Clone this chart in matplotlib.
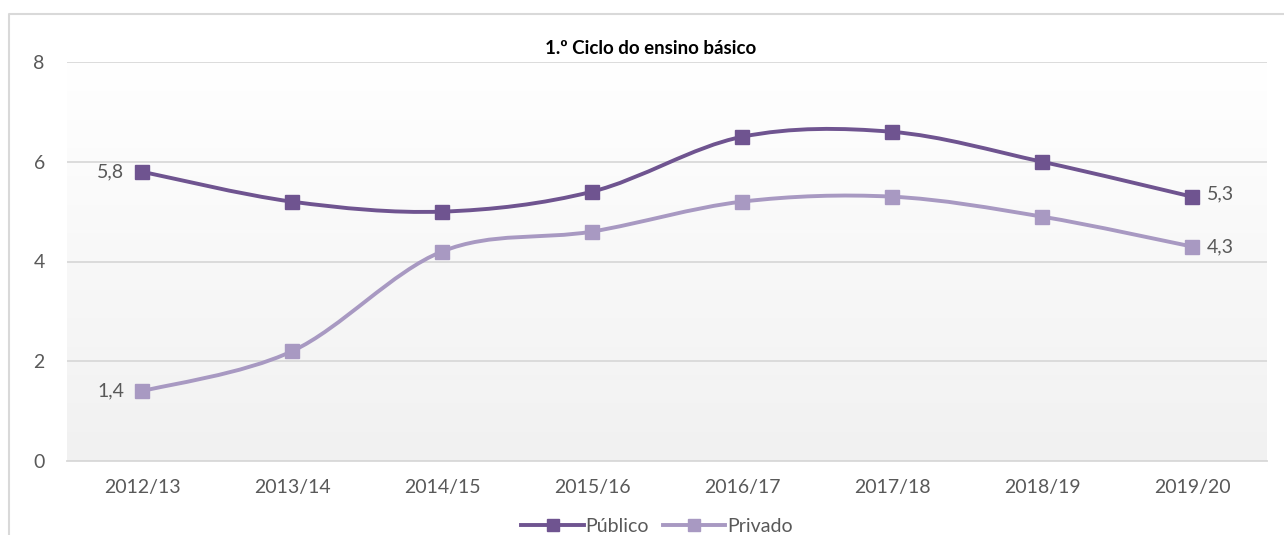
import numpy as np
import matplotlib.pyplot as plt
from matplotlib.path import Path
from matplotlib.patches import PathPatch
from matplotlib.lines import Line2D

anos = ["2012/13", "2013/14", "2014/15", "2015/16", "2016/17", "2017/18", "2018/19", "2019/20"]
publico = [5.8, 5.2, 5.0, 5.4, 6.5, 6.6, 6.0, 5.3]
privado = [1.4, 2.2, 4.2, 4.6, 5.2, 5.3, 4.9, 4.3]

cor_pub = "#6f5490"
cor_priv = "#a899c2"
cor_txt = "#595959"

plt.rcParams["font.family"] = ["Lato", "DejaVu Sans"]


def curva_suave(ax, xs, ys, cor):
    # smoothed line like excel (bezier, 1/6 of neighbour differences)
    pts = np.column_stack([xs, ys]).astype(float)
    n = len(pts)
    verts = [pts[0]]
    codes = [Path.MOVETO]
    for i in range(n - 1):
        p0 = pts[i - 1] if i > 0 else pts[i]
        p1 = pts[i]
        p2 = pts[i + 1]
        p3 = pts[i + 2] if i + 2 < n else pts[i + 1]
        c1 = p1 + (p2 - p0) / 6
        c2 = p2 - (p3 - p1) / 6
        verts += [c1, c2, p2]
        codes += [Path.CURVE4] * 3
    ax.add_patch(PathPatch(Path(verts, codes), fill=False, edgecolor=cor,
                           lw=2.8, capstyle="round", zorder=3))


fig = plt.figure(figsize=(12.84, 5.35), dpi=100)
ax = fig.add_axes([67 / 1284, 74 / 535, 1200 / 1284, 399 / 535])

# gradient background
grad = np.linspace(0, 1, 256).reshape(-1, 1)
ax.imshow(grad, extent=[-0.5, 7.5, 0, 8], aspect="auto", origin="upper",
          cmap=plt.matplotlib.colors.LinearSegmentedColormap.from_list("g", ["#ffffff", "#f1f1f1"]),
          zorder=0)

x = np.arange(len(anos))
curva_suave(ax, x, publico, cor_pub)
curva_suave(ax, x, privado, cor_priv)
ax.plot(x, publico, ls="none", marker="s", ms=10.5, color=cor_pub, zorder=4)
ax.plot(x, privado, ls="none", marker="s", ms=10.5, color=cor_priv, zorder=4)

ax.set_xlim(-0.5, 7.5)
ax.set_ylim(0, 8)
ax.set_yticks([0, 2, 4, 6, 8])
ax.set_xticks(x)
ax.set_xticklabels(anos)
ax.tick_params(length=0, labelsize=14, colors=cor_txt)
ax.tick_params(axis="x", pad=13)
ax.tick_params(axis="y", pad=16)
ax.grid(axis="y", color="#d9d9d9", lw=1.3)
ax.set_axisbelow(True)
for s in ["top", "right", "left"]:
    ax.spines[s].set_visible(False)
ax.spines["bottom"].set_color("#d9d9d9")
ax.spines["bottom"].set_linewidth(1.3)

def fmt(v):
    return f"{v:.1f}".replace(".", ",")

ax.annotate(fmt(publico[0]), (0, publico[0]), xytext=(-13, 0), textcoords="offset points",
            ha="right", va="center", fontsize=14, color=cor_txt)
ax.annotate(fmt(privado[0]), (0, privado[0]), xytext=(-13, 0), textcoords="offset points",
            ha="right", va="center", fontsize=14, color=cor_txt)
ax.annotate(fmt(publico[-1]), (7, publico[-1]), xytext=(11, 2), textcoords="offset points",
            ha="left", va="center", fontsize=14, color=cor_txt)
ax.annotate(fmt(privado[-1]), (7, privado[-1]), xytext=(11, 0), textcoords="offset points",
            ha="left", va="center", fontsize=14, color=cor_txt)

fig.text(651 / 1284, 1 - 48 / 535, "1.º Ciclo do ensino básico", ha="center", va="center",
         fontsize=13.5, fontweight="bold", color="black")

handles = [Line2D([], [], color=cor_pub, lw=2.8, marker="s", ms=9),
           Line2D([], [], color=cor_priv, lw=2.8, marker="s", ms=9)]
fig.legend(handles, ["Público", "Privado"], loc="center", bbox_to_anchor=(657 / 1284, 1 - 526 / 535),
           ncol=2, frameon=False, fontsize=14, labelcolor=cor_txt, handlelength=3.2,
           columnspacing=0.7, handletextpad=0.1)

# outer chart border (top and left visible)
fig.add_artist(Line2D([8.5 / 1284, 8.5 / 1284, 1], [0, 1 - 13.5 / 535, 1 - 13.5 / 535],
                      transform=fig.transFigure, color="#d9d9d9", lw=1.5))

fig.savefig("out.png", dpi=100, facecolor="white")
